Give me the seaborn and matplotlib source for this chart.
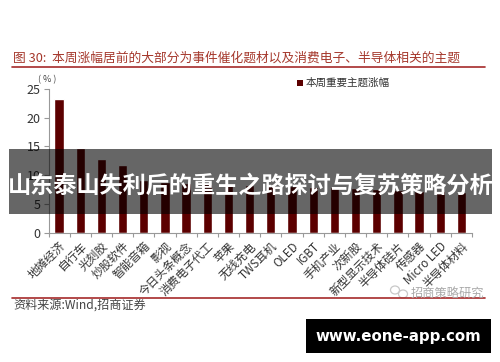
import matplotlib
matplotlib.use("Agg")
import matplotlib.pyplot as plt
from matplotlib.patches import Rectangle, Ellipse
import pandas as pd
import seaborn as sns

sns.set_theme(style="white")
plt.rcParams['font.family'] = ['Noto Sans CJK SC', 'DejaVu Sans']

categories = ['地摊经济', '自行车', '光刻胶', '炒股软件', '智能音箱', '影视', '今日头条概念',
              '消费电子代工', '苹果', '无线充电', 'TWS耳机', 'OLED', 'IGBT', '手机产业',
              '次新股', '新型显示技术', '半导体硅片', '传感器', 'Micro LED', '半导体材料']
values = [23.3, 14.7, 12.9, 11.8, 9.2, 8.9, 8.7, 8.5, 8.4, 8.3,
          8.2, 8.1, 8.0, 7.9, 7.8, 7.6, 7.4, 7.3, 7.2, 7.0]
series_name = '本周重要主题涨幅'
title = '图 30:  本周涨幅居前的大部分为事件催化题材以及消费电子、半导体相关的主题'
source = '资料来源:Wind,招商证券'
banner = '山东泰山失利后的重生之路探讨与复苏策略分析'
site = 'www.eone-app.com'
watermark = '招商策略研究'

W, H = 500, 362
fig = plt.figure(figsize=(W / 100, H / 100), dpi=100, facecolor='white')
ax = fig.add_axes([48.5 / W, 1 - 232.7 / H, (472 - 48.5) / W, (232.7 - 89) / H])
df = pd.DataFrame({'cat': categories, 'val': values})
sns.barplot(data=df, x='cat', y='val', color='#5c0000', saturation=1, width=0.44, ax=ax)
ax.set_ylim(0, 25)
ax.set_xlim(-0.5, 19.5)
ax.set_xlabel('')
ax.set_ylabel('')
ax.set_yticks([0, 5, 10, 15, 20, 25])
ax.tick_params(axis='y', length=3.5, width=0.8, color='#999999', left=True, direction='out',
               labelsize=9, labelcolor='#333333', pad=2)
ax.set_xticks([i - 0.5 for i in range(21)], minor=True)
ax.set_xticks(range(len(categories)))
ax.tick_params(axis='x', which='major', length=0, pad=5)
ax.tick_params(axis='x', which='minor', length=3, width=0.8, color='#999999', bottom=True)
ax.set_xticklabels(categories, rotation=45, ha='right', rotation_mode='anchor', fontsize=8.4, color='#333333')
sns.despine(ax=ax)
for s in ('left', 'bottom'):
    ax.spines[s].set_color('#999999')
    ax.spines[s].set_linewidth(0.8)

fig.text(38 / W, 1 - 80 / H, '( % )', fontsize=6.5, color='#444444', ha='left', va='center')
fig.add_artist(Rectangle((296.5 / W, 1 - 86 / H), 6 / W, 6 / H, transform=fig.transFigure, color='#5c0000', lw=0))
fig.text(306 / W, 1 - 82.5 / H, series_name, fontsize=7.6, color='#333333', va='center')

fig.text(13 / W, 1 - 58.5 / H, title, fontsize=9.2, color='#a5382c', va='center')
fig.add_artist(plt.Line2D([12 / W, 485 / W], [1 - 66.5 / H] * 2, color='#a52a2a', lw=1.2))
fig.add_artist(plt.Line2D([12 / W, 485 / W], [1 - 298 / H] * 2, color='#a52a2a', lw=1.2))
fig.text(13 / W, 1 - 305.5 / H, source, fontsize=8.7, color='#444444', va='center')
fig.add_artist(Ellipse((395 / W, 1 - 290 / H), 9 / W, 8 / H, transform=fig.transFigure,
                       fill=False, edgecolor='#c8c8c8', lw=0.9))
fig.add_artist(Ellipse((403 / W, 1 - 294 / H), 9 / W, 8 / H, transform=fig.transFigure,
                       fill=False, edgecolor='#c8c8c8', lw=0.9))
fig.text(411 / W, 1 - 293 / H, watermark, fontsize=8.8, color='#aaaaaa', va='center')

fig.add_artist(Rectangle((9 / W, 1 - 214 / H), 483 / W, 65 / H, transform=fig.transFigure,
                         color='black', alpha=0.6, lw=0))
fig.text(250.5 / W, 1 - 186 / H, banner, fontsize=16.7, color='white', fontweight='bold', ha='center', va='center')
fig.add_artist(Rectangle((306 / W, 1 - 353 / H), 185 / W, 34 / H, transform=fig.transFigure,
                         color='black', lw=0))
fig.text(398.5 / W, 1 - 336 / H, site, fontsize=10.8, color='white', fontweight='bold', ha='center', va='center',
         family='DejaVu Sans')
fig.savefig('out.png', dpi=100)
